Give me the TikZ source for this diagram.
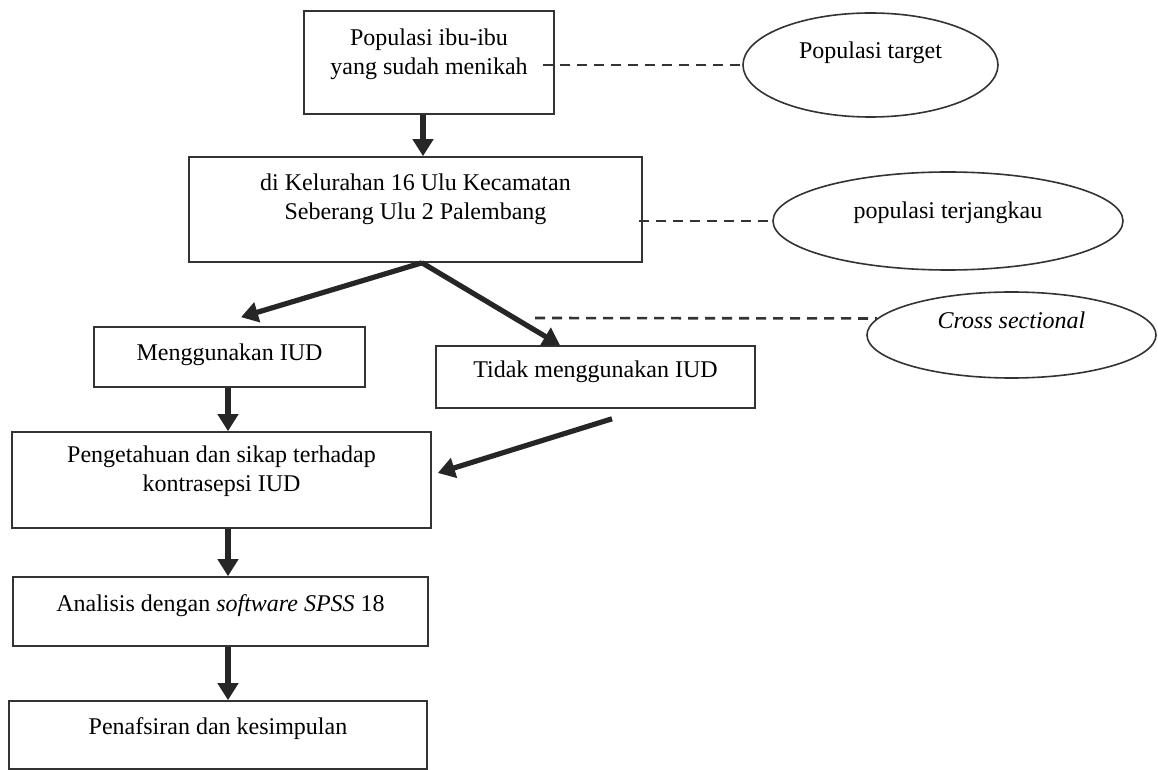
\documentclass[tikz,border=0pt]{standalone}
\usepackage{fontspec}
\setmainfont{Liberation Serif}
\usetikzlibrary{shapes.geometric,arrows.meta}

\begin{document}
\begin{tikzpicture}[x=0.5pt, y=-0.5pt, font=\fontsize{12}{14.5}\selectfont]
        \tikzstyle{box}=[draw=black!80, line width=0.8pt, rectangle, align=center, inner sep=0pt, text depth=11pt]
        \tikzstyle{oval}=[draw=black!80, line width=0.8pt, ellipse, inner sep=0pt, text depth=15pt]
        \tikzstyle{arr}=[draw=black!85, line width=2.6pt, -{Triangle[length=8.5pt,width=10pt]}]
        \tikzstyle{dashline}=[draw=black!80, line width=1.3pt, dash pattern=on 5pt off 3.5pt]

% Kerangka alur penelitian, boxes on the left and the populasi/design ovals on the right

        \useasboundingbox (0,0) rectangle (1158,770);

        \node[box, minimum width=125pt, minimum height=51.5pt] (pop) at (429,62.5) {Populasi ibu-ibu\\yang sudah menikah};
        \node[box, minimum width=226.5pt, minimum height=52.5pt, text depth=13pt] (kel) at (415.5,209.5) {di Kelurahan 16 Ulu Kecamatan\\Seberang Ulu 2 Palembang};
        \node[box, minimum width=135.5pt, minimum height=30pt, text depth=5.2pt] (iud) at (229.5,357) {Menggunakan IUD};
        \node[box, minimum width=159.5pt, minimum height=31pt, text depth=8.2pt] (noniud) at (595.5,377) {Tidak menggunakan IUD};
        \node[box, minimum width=209.5pt, minimum height=48pt] (sikap) at (221.5,480) {Pengetahuan dan sikap terhadap\\kontrasepsi IUD};
        \node[box, minimum width=207.5pt, minimum height=34.5pt, text depth=8.5pt] (spss) at (220.5,611.5) {Analisis dengan \textit{software SPSS} 18};
        \node[box, minimum width=209pt, minimum height=34pt, text depth=9.2pt] (tafsir) at (218,735) {Penafsiran dan kesimpulan};

        \node[oval, minimum width=127.5pt, minimum height=52pt] (target) at (870.5,65) {Populasi target};
        \node[oval, minimum width=175pt, minimum height=49pt, text depth=11pt] (jangkau) at (948,221) {populasi terjangkau};
        \node[oval, minimum width=144.5pt, minimum height=43pt] (cross) at (1011.5,335) {\textit{Cross sectional}};

        \coordinate (split) at ([xshift=3.25pt]kel.south);
        \coordinate (crossfree) at (535,318);

        \draw[arr] ([xshift=-3pt]pop.south) -- ([xshift=-3pt]pop.south |- kel.north);
        \draw[arr] (split) -- ([xshift=5.75pt,yshift=4.5pt]iud.north);
        \draw[arr] (split) -- ([xshift=-17.75pt]noniud.north);
        \draw[arr] ([xshift=-0.75pt]iud.south) -- ([xshift=-0.75pt]iud.south |- sikap.north);
        \draw[arr] ([xshift=8.25pt,yshift=-5pt]noniud.south) -- ([xshift=3pt,yshift=3.5pt]sikap.east);
        \draw[arr] ([xshift=3.25pt]sikap.south) -- ([xshift=3.25pt]sikap.south |- spss.north);
        \draw[arr] ([xshift=3.75pt]spss.south) -- ([xshift=3.75pt]spss.south |- tafsir.north);

        \draw[dashline] ([xshift=-6pt]pop.east |- target.west) -- (target.west);
        \draw[dashline] ([xshift=-2pt]kel.east |- jangkau.west) -- (jangkau.west);
        \draw[dashline] (crossfree) -- (cross.173);

    \end{tikzpicture}
\end{document}
